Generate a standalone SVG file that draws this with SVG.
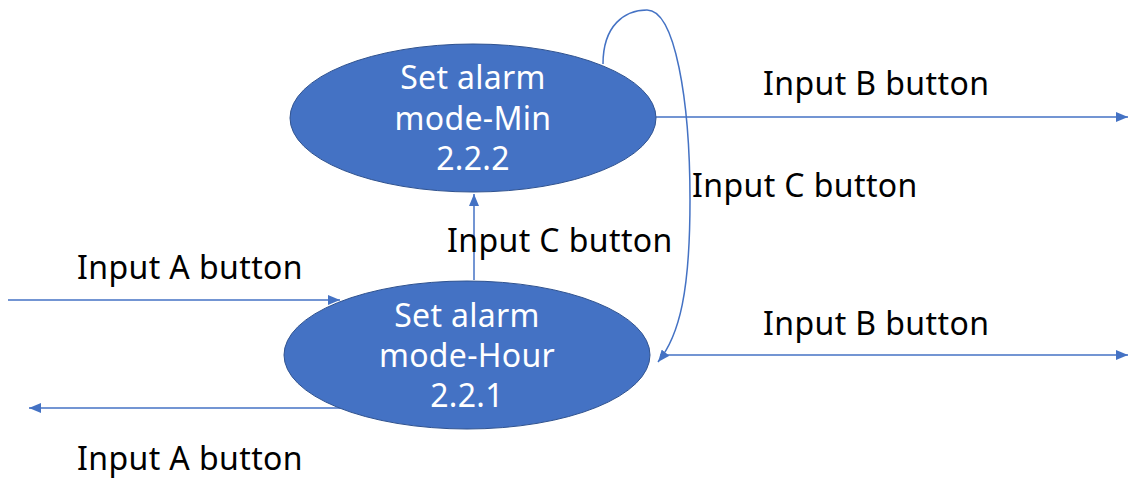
<svg xmlns="http://www.w3.org/2000/svg" width="1130" height="480" viewBox="0 0 1130 480">
  <style>
    .state { fill: #4472C4; stroke: #2F528F; stroke-width: 1; }
    .state-text { font-family: "Noto Sans", "Open Sans", sans-serif; font-size: 32px; letter-spacing: 0.3px; fill: #FFFFFF; text-anchor: middle; }
    .edge { fill: none; stroke: #4472C4; stroke-width: 1.5; marker-end: url(#arrow); }
    .label { font-family: "Noto Sans", "Open Sans", sans-serif; font-size: 32px; letter-spacing: 0.4px; fill: #000000; }
  </style>
  <defs>
    <marker id="arrow" viewBox="0 0 12 10" refX="12" refY="5" markerWidth="12" markerHeight="10" markerUnits="userSpaceOnUse" orient="auto">
      <path d="M0,0 L12,5 L0,10 Z" fill="#4472C4"/>
    </marker>
  </defs>

  <rect width="1130" height="480" fill="#FFFFFF"/>

  <!-- connectors -->
  <g id="connectors">
    <line class="edge" x1="8" y1="300" x2="340" y2="300"/>
    <line class="edge" x1="340" y1="408" x2="29" y2="408"/>
    <line class="edge" x1="474" y1="280" x2="474" y2="194"/>
    <line class="edge" x1="656" y1="117" x2="1128" y2="117"/>
    <line class="edge" x1="660" y1="355" x2="1128" y2="355"/>
    <path class="edge" d="M603,64 C603,25 625,10 647,10 C675,10 690,100 690,200 C690,290 680,335 658,362"/>
  </g>

  <!-- edge labels -->
  <g id="labels">
    <text class="label" x="763" y="95">Input B button</text>
    <text class="label" x="692" y="197">Input C button</text>
    <text class="label" x="447" y="252">Input C button</text>
    <text class="label" x="77" y="279">Input A button</text>
    <text class="label" x="763" y="335">Input B button</text>
    <text class="label" x="77" y="470">Input A button</text>
  </g>

  <!-- state 2.2.2 -->
  <g id="state-min">
    <ellipse class="state" cx="473" cy="118" rx="183" ry="74"/>
    <text class="state-text" x="473" y="89">Set alarm</text>
    <text class="state-text" x="473" y="130">mode-Min</text>
    <text class="state-text" x="473" y="170">2.2.2</text>
  </g>

  <!-- state 2.2.1 -->
  <g id="state-hour">
    <ellipse class="state" cx="467" cy="355" rx="183" ry="74"/>
    <text class="state-text" x="467" y="327">Set alarm</text>
    <text class="state-text" x="467" y="367">mode-Hour</text>
    <text class="state-text" x="467" y="407">2.2.1</text>
  </g>
</svg>
